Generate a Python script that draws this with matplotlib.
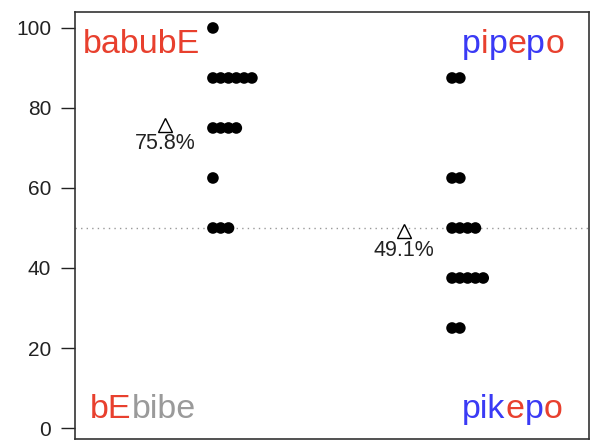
import numpy as np
import matplotlib
matplotlib.use("Agg")
import matplotlib.pyplot as plt

plt.rcParams['font.family'] = ['Liberation Sans', 'DejaVu Sans']

# dot rows per group: (value, count)
left_vals = [100, 87.5, 75, 62.5, 50]
left_counts = [1, 6, 4, 1, 3]
right_vals = [87.5, 62.5, 50, 37.5, 25]
right_counts = [2, 2, 4, 5, 2]
ref_line = 50
yticks = [0, 20, 40, 60, 80, 100]

RED = '#E8402E'
BLUE = '#3A3AF5'
GRAY = '#9A9A9A'

fig = plt.figure(figsize=(5.95, 4.43), dpi=100)
ax = fig.add_axes([0.126, 0.009, 0.864, 0.964])

step = 0.0326
groups = [(1, left_vals, left_counts), (2, right_vals, right_counts)]
for gx, vals, counts in groups:
    xs, ys = [], []
    for v, n in zip(vals, counts):
        for i in range(n):
            xs.append(gx + step * i)
            ys.append(v)
    ax.scatter(xs, ys, s=70, color='black', edgecolors='none', zorder=3)
    allv = np.repeat(vals, counts)
    m = allv.mean()
    ax.plot(gx - 0.2, m, marker='^', markersize=10, markerfacecolor='white',
            markeredgecolor='black', markeredgewidth=1, zorder=4)
    # label is truncated to one decimal
    lab = np.floor(m * 10) / 10
    ax.annotate(f"{lab:.1f}%", (gx - 0.2, m), xytext=(0, -6), textcoords='offset points',
                ha='center', va='top', fontsize=15.5, color='#222222')

ax.axhline(ref_line, color='#999999', linestyle=(0, (1, 3)), linewidth=1, zorder=1)

ax.set_xlim(0.423, 2.573)
ax.set_ylim(-2.75, 104)
ax.set_xticks([])
ax.set_yticks(yticks)
ax.tick_params(axis='y', length=10, width=1, labelsize=15, pad=7, colors='#222222')
for sp in ax.spines.values():
    sp.set_color('#333333')
    sp.set_linewidth(1.2)


def colored(x, y, parts, **kw):
    prev = None
    for txt, col in parts:
        if prev is None:
            prev = ax.text(x, y, txt, color=col, transform=ax.transAxes,
                           ha='left', va='baseline', fontsize=24.5, **kw)
        else:
            prev = ax.annotate(txt, xy=(1, 0), xycoords=prev, ha='left', va='bottom',
                               color=col, fontsize=24.5, **kw)


colored(0.0156, 0.904, [('babubE', RED)])
colored(0.753, 0.904, [('p', BLUE), ('i', RED), ('p', BLUE), ('e', RED), ('p', BLUE), ('o', RED)])
colored(0.029, 0.049, [('bE', RED), ('bibe', GRAY)])
colored(0.753, 0.049, [('pik', BLUE), ('e', RED), ('p', BLUE), ('o', RED)])

fig.savefig('out.png', dpi=100)
